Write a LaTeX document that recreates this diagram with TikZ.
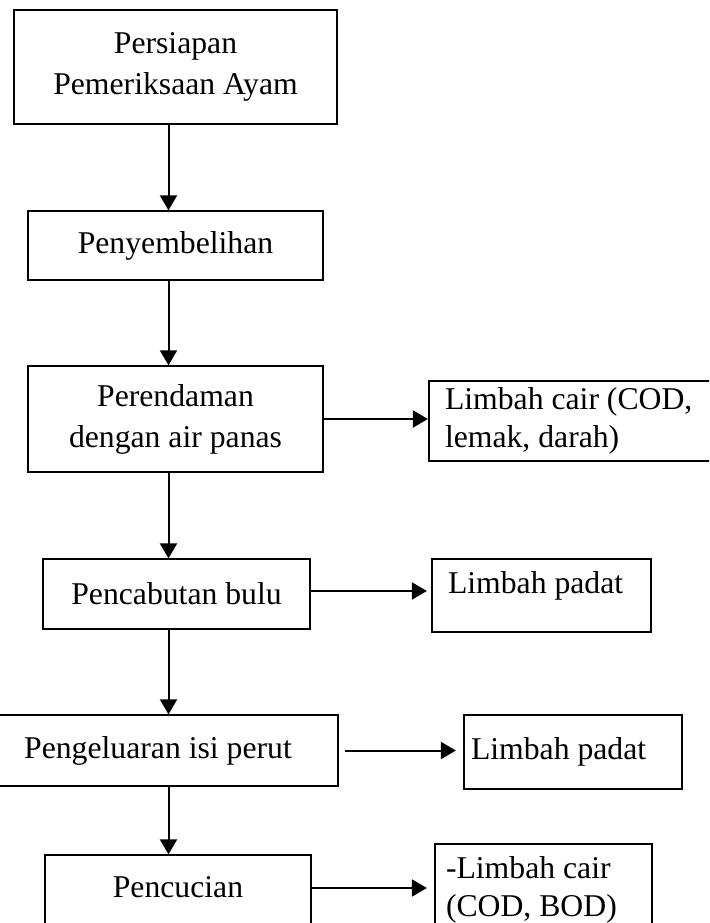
\documentclass[tikz,border=0pt]{standalone}
\usepackage{fontspec}
\setmainfont{Liberation Serif}
\usetikzlibrary{arrows.meta}

\begin{document}
\begin{tikzpicture}[x=1pt,y=-1pt,
	>={Triangle[length=15pt,width=17pt]},
	procbox/.style={draw,line width=1.3pt,align=center,inner sep=0pt,font=\fontsize{31.7}{41}\selectfont},
	wastebox/.style={draw,line width=2.2pt,align=flush left,inner sep=0pt,font=\fontsize{31.7}{38}\selectfont},
	flow/.style={->,line width=2pt}]
	\useasboundingbox (0,0) rectangle (709,923);
	\clip (0,0) rectangle (709,923);
	\coordinate (spine) at (168.5,0);
	% process steps
	\node[procbox,minimum width=323pt,minimum height=114pt] (persiapan) at (175.5,67) {Persiapan\\Pemeriksaan Ayam};
	\node[procbox,minimum width=295pt,minimum height=69pt] (sembelih) at (175.5,245.5) {Penyembelihan};
	\node[procbox,minimum width=295pt,minimum height=106pt] (rendam) at (175.5,419) {Perendaman\\dengan air panas};
	\node[procbox,minimum width=267pt,minimum height=70pt] (cabut) at (176.5,594) {Pencabutan bulu};
	\node[procbox,minimum width=360pt,minimum height=71pt] (keluar) at (158,750.5) {Pengeluaran isi perut};
	\node[procbox,minimum width=266pt,minimum height=76pt,text depth=12pt] (cuci) at (178,893) {Pencucian};
	% waste
	\node[wastebox,minimum width=289pt,minimum height=80pt,text width=257pt] (cair1) at (573.5,421) {Limbah cair (COD,\\lemak, darah)};
	\node[wastebox,minimum width=219pt,minimum height=73pt,text width=187pt,text depth=27pt] (padat1) at (541.5,595.5) {Limbah padat};
	\node[wastebox,minimum width=218pt,minimum height=74pt,text width=204pt,text depth=8pt] (padat2) at (573,752) {Limbah padat};
	\node[wastebox,minimum width=217pt,minimum height=92pt,text width=195pt] (cair2) at (543.5,890) {-Limbah cair\\(COD, BOD)};
	% main flow
	\draw[flow] (persiapan.south -| spine) -- (sembelih.north -| spine);
	\draw[flow] (sembelih.south -| spine) -- (rendam.north -| spine);
	\draw[flow] (rendam.south -| spine) -- (cabut.north -| spine);
	\draw[flow] (cabut.south -| spine) -- (keluar.north -| spine);
	\draw[flow] (keluar.south -| spine) -- (cuci.north -| spine);
	% side flows
	\draw[flow] (rendam.east) -- (rendam.east -| cair1.west);
	\draw[flow,shorten >=4pt] ([yshift=3pt]cabut.east) -- ([yshift=3pt]cabut.east -| padat1.west);
	\draw[flow,shorten <=6pt,shorten >=7pt] (keluar.east) -- (keluar.east -| padat2.west);
	\draw[flow,shorten >=7pt] ([yshift=5pt]cuci.east) -- ([yshift=5pt]cuci.east -| cair2.west);
\end{tikzpicture}
\end{document}
